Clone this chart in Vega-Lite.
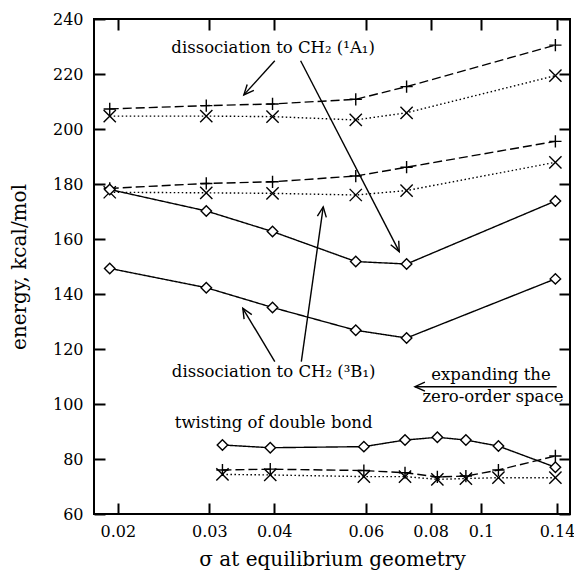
{
  "$schema": "https://vega.github.io/schema/vega-lite/v6.json",
  "width": 476,
  "height": 495,
  "autosize": {"type": "none"},
  "padding": {"left": 94, "top": 19, "right": 4, "bottom": 60},
  "background": "white",
  "config": {
    "view": {"stroke": "black", "strokeWidth": 2},
    "font": "DejaVu Serif",
    "axis": {
      "domain": false, "grid": false,
      "tickColor": "black", "tickWidth": 2, "tickSize": -11,
      "labelFont": "DejaVu Serif", "labelFontSize": 16, "labelColor": "black",
      "titleFont": "DejaVu Serif", "titleFontSize": 20, "titleFontWeight": "normal", "titleColor": "black"
    }
  },
  "datasets": {
    "series": [
      {"s": "A1p", "style": "dashed", "m": "plus", "x": 0.0193, "y": 207.3},
      {"s": "A1p", "style": "dashed", "m": "plus", "x": 0.0296, "y": 208.5},
      {"s": "A1p", "style": "dashed", "m": "plus", "x": 0.0397, "y": 209.1},
      {"s": "A1p", "style": "dashed", "m": "plus", "x": 0.0574, "y": 210.8},
      {"s": "A1p", "style": "dashed", "m": "plus", "x": 0.0719, "y": 215.4},
      {"s": "A1p", "style": "dashed", "m": "plus", "x": 0.139, "y": 230.5},
      {"s": "A1x", "style": "dotted", "m": "cross", "x": 0.0193, "y": 204.7},
      {"s": "A1x", "style": "dotted", "m": "cross", "x": 0.0296, "y": 204.7},
      {"s": "A1x", "style": "dotted", "m": "cross", "x": 0.0397, "y": 204.5},
      {"s": "A1x", "style": "dotted", "m": "cross", "x": 0.0574, "y": 203.3},
      {"s": "A1x", "style": "dotted", "m": "cross", "x": 0.0719, "y": 205.9},
      {"s": "A1x", "style": "dotted", "m": "cross", "x": 0.139, "y": 219.4},
      {"s": "B1p", "style": "dashed", "m": "plus", "x": 0.0193, "y": 178.4},
      {"s": "B1p", "style": "dashed", "m": "plus", "x": 0.0296, "y": 180.2},
      {"s": "B1p", "style": "dashed", "m": "plus", "x": 0.0397, "y": 180.8},
      {"s": "B1p", "style": "dashed", "m": "plus", "x": 0.0574, "y": 182.9},
      {"s": "B1p", "style": "dashed", "m": "plus", "x": 0.0719, "y": 186.1},
      {"s": "B1p", "style": "dashed", "m": "plus", "x": 0.139, "y": 195.5},
      {"s": "B1x", "style": "dotted", "m": "cross", "x": 0.0193, "y": 177.0},
      {"s": "B1x", "style": "dotted", "m": "cross", "x": 0.0296, "y": 176.8},
      {"s": "B1x", "style": "dotted", "m": "cross", "x": 0.0397, "y": 176.6},
      {"s": "B1x", "style": "dotted", "m": "cross", "x": 0.0574, "y": 176.0},
      {"s": "B1x", "style": "dotted", "m": "cross", "x": 0.0719, "y": 177.6},
      {"s": "B1x", "style": "dotted", "m": "cross", "x": 0.139, "y": 187.9},
      {"s": "Dup", "style": "solid", "m": "diamond", "x": 0.0193, "y": 178.0},
      {"s": "Dup", "style": "solid", "m": "diamond", "x": 0.0296, "y": 170.2},
      {"s": "Dup", "style": "solid", "m": "diamond", "x": 0.0397, "y": 162.7},
      {"s": "Dup", "style": "solid", "m": "diamond", "x": 0.0574, "y": 151.8},
      {"s": "Dup", "style": "solid", "m": "diamond", "x": 0.0719, "y": 150.9},
      {"s": "Dup", "style": "solid", "m": "diamond", "x": 0.139, "y": 173.8},
      {"s": "Dlo", "style": "solid", "m": "diamond", "x": 0.0193, "y": 149.3},
      {"s": "Dlo", "style": "solid", "m": "diamond", "x": 0.0296, "y": 142.3},
      {"s": "Dlo", "style": "solid", "m": "diamond", "x": 0.0397, "y": 135.1},
      {"s": "Dlo", "style": "solid", "m": "diamond", "x": 0.0574, "y": 126.8},
      {"s": "Dlo", "style": "solid", "m": "diamond", "x": 0.0719, "y": 124.0},
      {"s": "Dlo", "style": "solid", "m": "diamond", "x": 0.139, "y": 145.5},
      {"s": "Tp", "style": "dashed", "m": "plus", "x": 0.0318, "y": 76.0},
      {"s": "Tp", "style": "dashed", "m": "plus", "x": 0.0393, "y": 76.3},
      {"s": "Tp", "style": "dashed", "m": "plus", "x": 0.0595, "y": 75.8},
      {"s": "Tp", "style": "dashed", "m": "plus", "x": 0.0714, "y": 75.0},
      {"s": "Tp", "style": "dashed", "m": "plus", "x": 0.0824, "y": 73.5},
      {"s": "Tp", "style": "dashed", "m": "plus", "x": 0.0935, "y": 73.8},
      {"s": "Tp", "style": "dashed", "m": "plus", "x": 0.108, "y": 76.0},
      {"s": "Tp", "style": "dashed", "m": "plus", "x": 0.139, "y": 81.1},
      {"s": "Tx", "style": "dotted", "m": "cross", "x": 0.0318, "y": 74.4},
      {"s": "Tx", "style": "dotted", "m": "cross", "x": 0.0393, "y": 74.2},
      {"s": "Tx", "style": "dotted", "m": "cross", "x": 0.0595, "y": 73.6},
      {"s": "Tx", "style": "dotted", "m": "cross", "x": 0.0714, "y": 73.6},
      {"s": "Tx", "style": "dotted", "m": "cross", "x": 0.0824, "y": 72.6},
      {"s": "Tx", "style": "dotted", "m": "cross", "x": 0.0935, "y": 72.9},
      {"s": "Tx", "style": "dotted", "m": "cross", "x": 0.108, "y": 73.2},
      {"s": "Tx", "style": "dotted", "m": "cross", "x": 0.139, "y": 73.2},
      {"s": "Td", "style": "solid", "m": "diamond", "x": 0.0318, "y": 85.1},
      {"s": "Td", "style": "solid", "m": "diamond", "x": 0.0393, "y": 84.1},
      {"s": "Td", "style": "solid", "m": "diamond", "x": 0.0595, "y": 84.5},
      {"s": "Td", "style": "solid", "m": "diamond", "x": 0.0714, "y": 86.9},
      {"s": "Td", "style": "solid", "m": "diamond", "x": 0.0824, "y": 87.9},
      {"s": "Td", "style": "solid", "m": "diamond", "x": 0.0935, "y": 86.9},
      {"s": "Td", "style": "solid", "m": "diamond", "x": 0.108, "y": 84.7},
      {"s": "Td", "style": "solid", "m": "diamond", "x": 0.139, "y": 77.0}
    ],
    "arrows": [
      {"id": 1, "x": 0.0401, "y": 224.8}, {"id": 1, "x": 0.03496, "y": 212.4},
      {"id": 2, "x": 0.04496, "y": 224.8}, {"id": 2, "x": 0.0696, "y": 155.4},
      {"id": 3, "x": 0.0401, "y": 115.4}, {"id": 3, "x": 0.0348, "y": 134.8},
      {"id": 4, "x": 0.0451, "y": 115.4}, {"id": 4, "x": 0.0497, "y": 171.7},
      {"id": 5, "x": 0.1398, "y": 106.3}, {"id": 5, "x": 0.0746, "y": 106.3}
    ],
    "heads": [
      {"x": 0.03496, "y": 212.4, "heading": 222},
      {"x": 0.0696, "y": 155.4, "heading": 153},
      {"x": 0.0348, "y": 134.8, "heading": 329},
      {"x": 0.0497, "y": 171.7, "heading": 8},
      {"x": 0.0746, "y": 106.3, "heading": 270}
    ],
    "notes": [
      {"label": "dissociation to CH₂ (¹A₁)", "x": 0.0398, "y": 229.5},
      {"label": "dissociation to CH₂ (³B₁)", "x": 0.0399, "y": 111.6},
      {"label": "twisting of double bond", "x": 0.0399, "y": 93.1},
      {"label": "expanding the", "x": 0.1045, "y": 110.6},
      {"label": "zero-order space", "x": 0.1054, "y": 102.6}
    ]
  },
  "resolve": {"axis": {"x": "independent", "y": "independent"}},
  "layer": [
    {
      "data": {"name": "series"},
      "mark": {"type": "line", "color": "black", "strokeWidth": 1.4},
      "encoding": {
        "x": {"field": "x", "type": "quantitative",
              "scale": {"type": "log", "domain": [0.018, 0.1483], "nice": false},
              "axis": {"orient": "bottom", "values": [0.02, 0.03, 0.04, 0.06, 0.08, 0.1, 0.14], "format": "~g", "labelPadding": 20, "title": "σ at equilibrium geometry", "titlePadding": 10}},
        "y": {"field": "y", "type": "quantitative",
              "scale": {"domain": [60, 240], "nice": false, "zero": false},
              "axis": {"orient": "left", "values": [60, 80, 100, 120, 140, 160, 180, 200, 220, 240], "labelPadding": 22, "title": "energy, kcal/mol", "titlePadding": 23}},
        "detail": {"field": "s"},
        "strokeDash": {"field": "style", "type": "nominal",
                       "scale": {"domain": ["dashed", "dotted", "solid"], "range": [[9, 4], [1.5, 2.5], [1, 0]]},
                       "legend": null}
      }
    },
    {
      "data": {"name": "series"},
      "mark": {"type": "point", "opacity": 0},
      "encoding": {
        "x": {"field": "x", "type": "quantitative",
              "axis": {"orient": "top", "values": [0.02, 0.03, 0.04, 0.06, 0.08, 0.1, 0.14], "labels": false, "title": null}},
        "y": {"field": "y", "type": "quantitative",
              "axis": {"orient": "right", "values": [60, 80, 100, 120, 140, 160, 180, 200, 220, 240], "labels": false, "title": null}}
      }
    },
    {
      "data": {"name": "series"},
      "transform": [{"filter": "datum.m !== 'diamond'"}],
      "mark": {"type": "point", "filled": false, "stroke": "black", "strokeWidth": 1.4, "opacity": 1},
      "encoding": {
        "x": {"field": "x", "type": "quantitative", "axis": null},
        "y": {"field": "y", "type": "quantitative", "axis": null},
        "shape": {"field": "m", "type": "nominal",
                  "scale": {"domain": ["plus", "cross"], "range": ["M-1,0L1,0M0,-1L0,1", "M-1,-1L1,1M-1,1L1,-1"]},
                  "legend": null},
        "size": {"value": 150}
      }
    },
    {
      "data": {"name": "series"},
      "transform": [{"filter": "datum.m === 'diamond'"}],
      "mark": {"type": "point", "shape": "diamond", "filled": true, "fill": "white", "stroke": "black", "strokeWidth": 1.4, "opacity": 1, "size": 110},
      "encoding": {
        "x": {"field": "x", "type": "quantitative", "axis": null},
        "y": {"field": "y", "type": "quantitative", "axis": null}
      }
    },
    {
      "data": {"name": "arrows"},
      "mark": {"type": "line", "color": "black", "strokeWidth": 1.4},
      "encoding": {
        "x": {"field": "x", "type": "quantitative", "axis": null},
        "y": {"field": "y", "type": "quantitative", "axis": null},
        "detail": {"field": "id"}
      }
    },
    {
      "data": {"name": "heads"},
      "mark": {"type": "point", "shape": "M-0.45,1L0,0L0.45,1", "filled": false, "stroke": "black", "strokeWidth": 1.4, "opacity": 1, "size": 400},
      "encoding": {
        "x": {"field": "x", "type": "quantitative", "axis": null},
        "y": {"field": "y", "type": "quantitative", "axis": null},
        "angle": {"field": "heading", "type": "quantitative", "scale": null}
      }
    },
    {
      "data": {"name": "notes"},
      "mark": {"type": "text", "font": "DejaVu Serif", "fontSize": 16.5, "color": "black", "align": "center", "baseline": "middle"},
      "encoding": {
        "x": {"field": "x", "type": "quantitative", "axis": null},
        "y": {"field": "y", "type": "quantitative", "axis": null},
        "text": {"field": "label"}
      }
    }
  ]
}
